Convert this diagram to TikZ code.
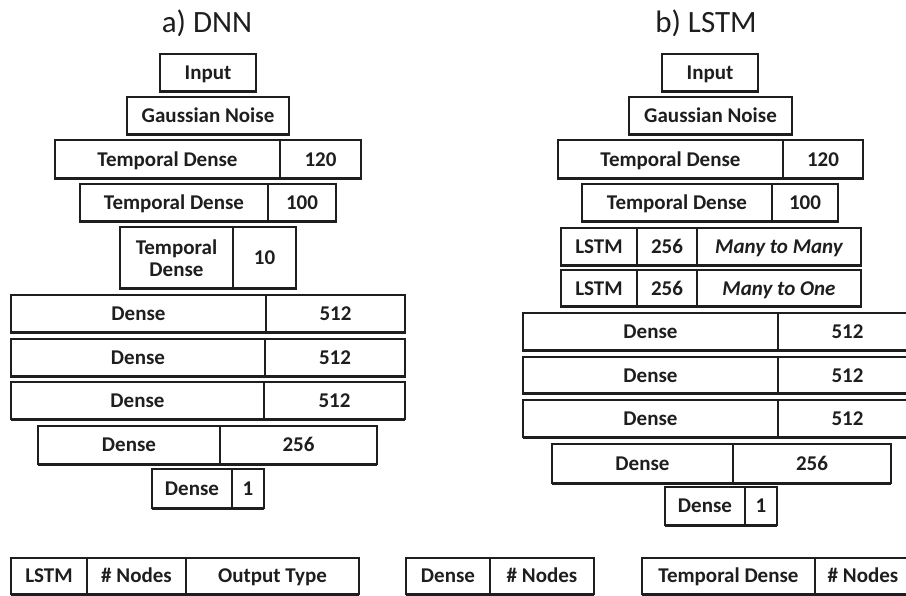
\documentclass[tikz,border=0pt]{standalone}
\usepackage{fontspec}
\setmainfont{Carlito}
\begin{document}
\begin{tikzpicture}[x=1pt,y=-1pt,
  cell/.style={draw=ink,line width=1.2pt,inner sep=0pt,font=\fontsize{21}{23}\selectfont\bfseries,text=ink,text height=13.4pt,text depth=0pt},
  tallcell/.style={draw=ink,line width=1.2pt,inner sep=0pt,font=\fontsize{21}{23}\selectfont\bfseries,text=ink,align=center},
  itcell/.style={cell,font=\fontsize{21}{23}\selectfont\bfseries\itshape},
  bottomline/.style={draw=ink,line width=3pt},
  titletext/.style={font=\fontsize{31}{34}\selectfont,text=ink}]
\definecolor{ink}{HTML}{1E1E1E}
\useasboundingbox (0,0) rectangle (906,596);
\clip (0,0) rectangle (906,596);
\newcommand\cellat[7][cell]{%
  \node[#1,minimum width={#5pt-#3pt},minimum height={#6pt-#4pt}] (#2) at ({(#3+#5)/2},{(#4+#6)/2}) {#7};
  \draw[bottomline] ({#3},{#6}) -- ({#5},{#6});}

% ---------- a) DNN ----------
\node[titletext] (ta) at (207,23) {a) DNN};
\cellat{aIn}{160}{54}{256}{92}{Input}
\cellat{aGn}{127}{97}{289}{135}{Gaussian Noise}
\cellat{aT1}{55}{140}{280}{179}{Temporal Dense}
\cellat{aT1n}{280}{140}{361}{179}{120}
\cellat{aT2}{80}{184}{268}{222}{Temporal Dense}
\cellat{aT2n}{268}{184}{336}{222}{100}
\cellat[tallcell]{aT3}{120}{227}{233}{289}{Temporal\\[-1pt]Dense}
\cellat{aT3n}{233}{227}{296}{289}{10}
\cellat{aD1}{11}{295}{266}{333}{Dense}
\cellat{aD1n}{266}{295}{405}{333}{512}
\cellat{aD2}{11}{339}{265}{377}{Dense}
\cellat{aD2n}{265}{339}{405}{377}{512}
\cellat{aD3}{11}{382}{264}{419}{Dense}
\cellat{aD3n}{264}{382}{405}{419}{512}
\cellat{aD4}{38}{426}{220}{464}{Dense}
\cellat{aD4n}{220}{426}{377}{464}{256}
\cellat{aD5}{152}{469}{232}{508}{Dense}
\cellat{aD5n}{232}{469}{264}{508}{1}

% ---------- b) LSTM ----------
\node[titletext] (tb) at (706,23) {b) LSTM};
\cellat{bIn}{662}{54}{758}{92}{Input}
\cellat{bGn}{629}{97}{792}{135}{Gaussian Noise}
\cellat{bT1}{558}{140}{783}{179}{Temporal Dense}
\cellat{bT1n}{783}{140}{863}{179}{120}
\cellat{bT2}{582}{184}{772}{222}{Temporal Dense}
\cellat{bT2n}{772}{184}{838}{222}{100}
\cellat{bL1}{561}{228}{637}{266}{LSTM}
\cellat{bL1n}{637}{228}{697}{266}{256}
\cellat[itcell]{bL1o}{697}{228}{861}{266}{Many to Many}
\cellat{bL2}{561}{270}{637}{307}{LSTM}
\cellat{bL2n}{637}{270}{697}{307}{256}
\cellat[itcell]{bL2o}{697}{270}{861}{307}{Many to One}
\cellat{bD1}{523}{313}{778}{351}{Dense}
\cellat{bD1n}{778}{313}{917}{351}{512}
\cellat{bD2}{523}{357}{778}{394}{Dense}
\cellat{bD2n}{778}{357}{917}{394}{512}
\cellat{bD3}{523}{400}{778}{437}{Dense}
\cellat{bD3n}{778}{400}{917}{437}{512}
\cellat{bD4}{552}{444}{733}{483}{Dense}
\cellat{bD4n}{733}{444}{891}{483}{256}
\cellat{bD5}{665}{487}{745}{525}{Dense}
\cellat{bD5n}{745}{487}{777}{525}{1}

% ---------- legend ----------
\cellat{lL1}{11}{558}{87}{594}{LSTM}
\cellat{lL2}{87}{558}{186}{594}{\# Nodes}
\cellat{lL3}{186}{558}{359}{594}{Output Type}
\cellat{lD1}{406}{558}{490}{594}{Dense}
\cellat{lD2}{490}{558}{594}{594}{\# Nodes}
\cellat{lT1}{642}{558}{815}{594}{Temporal Dense}
\cellat{lT2}{815}{558}{911}{594}{\# Nodes}
\end{tikzpicture}
\end{document}
